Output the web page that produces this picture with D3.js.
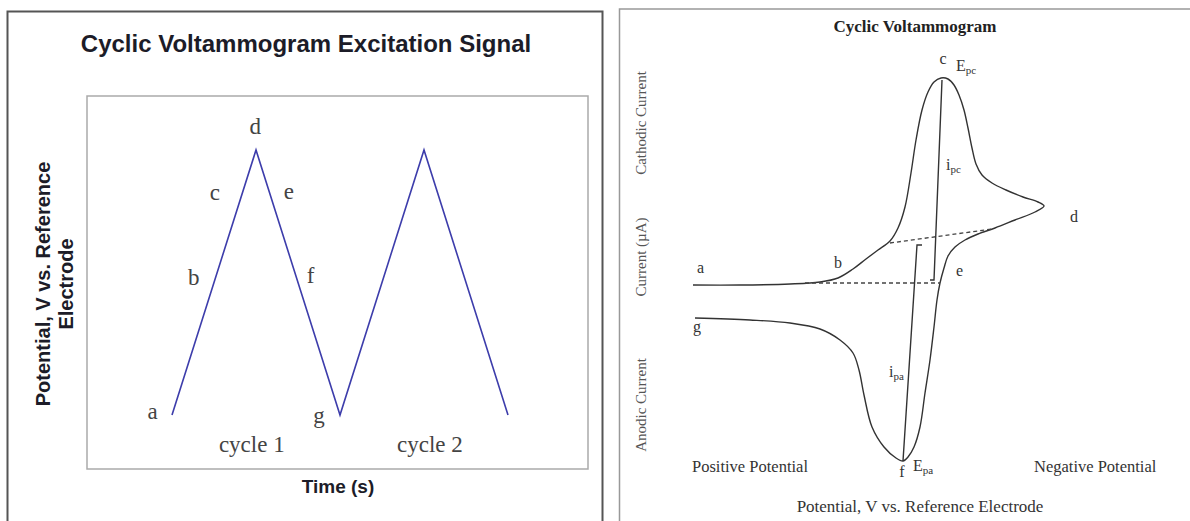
<!DOCTYPE html>
<html>
<head>
<meta charset="utf-8">
<title>Cyclic Voltammetry</title>
<script src="https://d3js.org/d3.v7.min.js"></script>
<style>
  html, body { margin: 0; background: #fff; }
  svg { display: block; }
  .serif { font-family: "Liberation Serif", "Times New Roman", serif; }
  .sans { font-family: "Liberation Sans", Arial, sans-serif; font-weight: bold; }
</style>
</head>
<body>
<svg width="1190" height="521"></svg>
<script>
// ---- left chart: excitation signal (time units, potential fraction) ----
var exciteTime = [0, 1, 2, 3, 4];
var excitePotential = [0, 1, 0, 1, 0];
var exciteLetters = ["a", "b", "c", "d", "e", "f", "g"];
var exciteLetterTime = [-0.23, 0.26, 0.51, 0.99, 1.39, 1.65, 1.75];
var exciteLetterPot = [-0.015, 0.49, 0.81, 1.06, 0.815, 0.50, -0.03];
var cycleNames = ["cycle 1", "cycle 2"];
var cycleTime = [0.95, 3.07];

// ---- right chart: voltammogram (potential in mV, current in uA) ----
var cvPotential = [594, 500, 400, 340, 304, 274, 248, 224, 200, 184, 170, 158, 148, 136, 124, 112, 98, 84, 72, 62, 52, 44, 36, 28, 16, -4, -32, -66, -96, -108,
                   -90, -50, -10, 24, 50, 70, 84, 92, 100, 106, 112, 120, 130, 140, 152, 164, 174, 188, 212, 236, 252, 262, 274, 300, 340, 400, 480, 590];
var cvCurrent = [-0.1, -0.1, 0, 0.2, 0.6, 1.5, 2.5, 3.4, 4.3, 5.6, 7.7, 11.1, 14.4, 17.4, 19.2, 20.2, 20.6, 20.5, 19.9, 18.9, 17.4, 15.6, 13.6, 12.0, 10.9, 10.1, 9.4, 8.7, 8.2, 7.8,
                 7.2, 6.4, 5.6, 5.0, 4.4, 3.7, 2.8, 1.6, 0.1, -1.6, -4.3, -7.6, -10.9, -14.3, -16.3, -17.3, -17.7, -17.4, -16.3, -14.3, -11.1, -8.6, -6.9, -5.6, -4.5, -3.9, -3.6, -3.4];
var baseLowPotential = [370, 100];
var baseLowCurrent = [0.1, 0.1];
var baseHighPotential = [200, -4];
var baseHighCurrent = [4.1, 5.5];
var ipcPotential = [96, 112, 120];
var ipcCurrent = [20.4, 0.4, 0.4];
var ipaPotential = [136, 146, 174];
var ipaCurrent = [3.9, 3.9, -17.7];

var cvLabels = [
  {t: "a", E: 586, i: 1.1},
  {t: "b", E: 312, i: 1.6},
  {t: "c", E: 94, i: 22.0, mid: true},
  {t: "E", sub: "pc", E: 68, i: 21.3},
  {t: "i", sub: "pc", E: 88, i: 11.4},
  {t: "d", E: -160, i: 6.2},
  {t: "e", E: 68, i: 0.8},
  {t: "g", E: 594, i: -4.8},
  {t: "i", sub: "pa", E: 202, i: -9.3},
  {t: "f", E: 176, i: -19.3, mid: true},
  {t: "E", sub: "pa", E: 154, i: -18.7}
];
var potentialNotes = [{t: "Positive Potential", E: 596}, {t: "Negative Potential", E: -88}];
var currentNotes = [{t: "Cathodic Current", y: 123}, {t: "Current (\u00b5A)", y: 257}, {t: "Anodic Current", y: 405}];

var svg = d3.select("svg");

// ================= left panel =================
var left = svg.append("g");
left.append("rect").attr("x", 7.5).attr("y", 11.5).attr("width", 595).attr("height", 530)
  .attr("fill", "none").attr("stroke", "#555").attr("stroke-width", 2);
left.append("rect").attr("x", 87).attr("y", 96).attr("width", 501).attr("height", 373)
  .attr("fill", "none").attr("stroke", "#aaa").attr("stroke-width", 1.5);

left.append("text").attr("class", "sans").attr("x", 306).attr("y", 52)
  .attr("text-anchor", "middle").attr("font-size", 24).attr("fill", "#1c1c28")
  .text("Cyclic Voltammogram Excitation Signal");

var yl = left.append("text").attr("class", "sans").attr("font-size", 20).attr("fill", "#1c1c28")
  .attr("text-anchor", "middle").attr("transform", "translate(50,284) rotate(-90)");
yl.append("tspan").attr("x", 0).attr("y", 0).text("Potential, V vs. Reference");
yl.append("tspan").attr("x", 0).attr("y", 23).text("Electrode");

left.append("text").attr("class", "sans").attr("x", 338).attr("y", 493)
  .attr("text-anchor", "middle").attr("font-size", 19).attr("fill", "#1c1c28").text("Time (s)");

var tx = d3.scaleLinear().domain([0, 4]).range([172, 508]);
var py = d3.scaleLinear().domain([0, 1]).range([415, 150]);

var exciteLine = d3.line().x(function(d) { return tx(d[0]); }).y(function(d) { return py(d[1]); });
left.append("path")
  .datum(exciteTime.map(function(t, k) { return [t, excitePotential[k]]; }))
  .attr("d", exciteLine).attr("fill", "none").attr("stroke", "#3d3dab").attr("stroke-width", 1.6);

left.selectAll(".lt").data(exciteLetters).enter().append("text")
  .attr("class", "serif").attr("font-size", 23).attr("fill", "#444").attr("text-anchor", "middle")
  .attr("x", function(d, k) { return tx(exciteLetterTime[k]); })
  .attr("y", function(d, k) { return py(exciteLetterPot[k]); })
  .text(function(d) { return d; });

left.selectAll(".cy").data(cycleNames).enter().append("text")
  .attr("class", "serif").attr("font-size", 23).attr("fill", "#444").attr("text-anchor", "middle")
  .attr("x", function(d, k) { return tx(cycleTime[k]); })
  .attr("y", py(-0.14))
  .text(function(d) { return d; });

// ================= right panel =================
var right = svg.append("g");
right.append("rect").attr("x", 619.5).attr("y", 9).attr("width", 600).attr("height", 540)
  .attr("fill", "none").attr("stroke", "#999").attr("stroke-width", 1.5);

right.append("text").attr("class", "serif").attr("x", 915).attr("y", 32)
  .attr("text-anchor", "middle").attr("font-size", 17).attr("font-weight", "bold").attr("fill", "#222")
  .text("Cyclic Voltammogram");

var ex = d3.scaleLinear().domain([600, -320]).range([690, 1150]);
var iy = d3.scaleLinear().domain([-20, 25]).range([484, 34]);

var cvLine = d3.line().x(function(d) { return ex(d[0]); }).y(function(d) { return iy(d[1]); });
function pairs(a, b) { return a.map(function(v, k) { return [v, b[k]]; }); }

right.append("path").datum(pairs(cvPotential, cvCurrent))
  .attr("d", cvLine.curve(d3.curveCatmullRom.alpha(0.5)))
  .attr("fill", "none").attr("stroke", "#333").attr("stroke-width", 1.4);

var straight = d3.line().x(function(d) { return ex(d[0]); }).y(function(d) { return iy(d[1]); });
[[baseLowPotential, baseLowCurrent], [baseHighPotential, baseHighCurrent]].forEach(function(s) {
  right.append("path").datum(pairs(s[0], s[1])).attr("d", straight)
    .attr("fill", "none").attr("stroke", "#444").attr("stroke-width", 1.3).attr("stroke-dasharray", "4,3");
});
[[ipcPotential, ipcCurrent], [ipaPotential, ipaCurrent]].forEach(function(s) {
  right.append("path").datum(pairs(s[0], s[1])).attr("d", straight)
    .attr("fill", "none").attr("stroke", "#333").attr("stroke-width", 1.4);
});

var lab = right.selectAll(".cvl").data(cvLabels).enter().append("text")
  .attr("class", "serif").attr("font-size", 16).attr("fill", "#333")
  .attr("text-anchor", function(d) { return d.mid ? "middle" : "start"; })
  .attr("x", function(d) { return ex(d.E); })
  .attr("y", function(d) { return iy(d.i); });
lab.append("tspan").text(function(d) { return d.t; });
lab.filter(function(d) { return d.sub; }).append("tspan")
  .attr("font-size", 11).attr("dy", 3).text(function(d) { return d.sub; });

right.selectAll(".pn").data(potentialNotes).enter().append("text")
  .attr("class", "serif").attr("font-size", 16.5).attr("fill", "#333")
  .attr("x", function(d) { return ex(d.E); }).attr("y", iy(-18.8))
  .text(function(d) { return d.t; });

right.selectAll(".cn").data(currentNotes).enter().append("text")
  .attr("class", "serif").attr("font-size", 15).attr("fill", "#555").attr("text-anchor", "middle")
  .attr("transform", function(d) { return "translate(646," + d.y + ") rotate(-90)"; })
  .text(function(d) { return d.t; });

right.append("text").attr("class", "serif").attr("x", 920).attr("y", 512)
  .attr("text-anchor", "middle").attr("font-size", 17).attr("fill", "#333")
  .text("Potential, V vs. Reference Electrode");
</script>
</body>
</html>
